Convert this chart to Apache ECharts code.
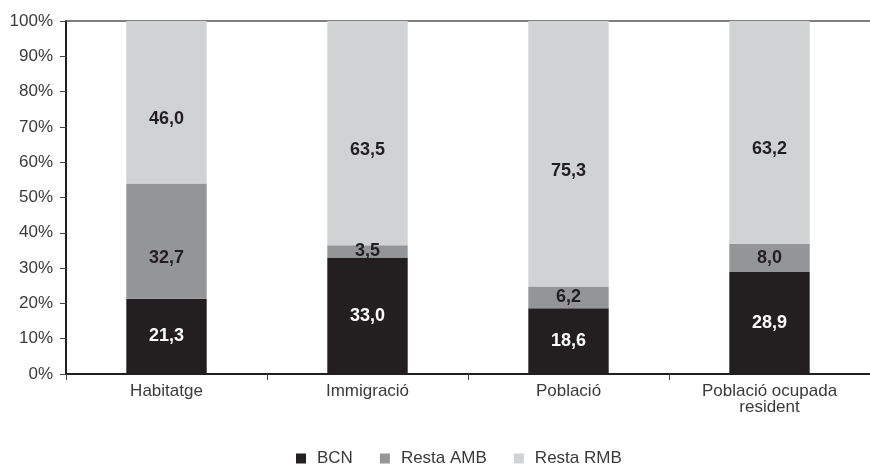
<!DOCTYPE html>
<html>
<head>
<meta charset="utf-8">
<script src="https://cdn.jsdelivr.net/npm/echarts@6/dist/echarts.min.js"></script>
<style>
  html, body { margin: 0; padding: 0; background: #fff; }
  #main { width: 870px; height: 464px; }
</style>
</head>
<body>
<div id="main"></div>
<script>
var categories = ['Habitatge', 'Immigració', 'Població', 'Població ocupada\nresident'];
var bcn = [21.3, 33.0, 18.6, 28.9];
var restaAmb = [32.7, 3.5, 6.2, 8.0];
var restaRmb = [46.0, 63.5, 75.3, 63.2];
var yTicks = [0, 10, 20, 30, 40, 50, 60, 70, 80, 90, 100];

var font = 'Liberation Sans, Arial, sans-serif';

function fmt(p) {
  return p.value.toFixed(1).replace('.', ',');
}

// tall segments carry their label a little below the middle, as in the original
function items(data) {
  return data.map(function (v) {
    return v > 20 && data !== bcn ? { value: v, label: { offset: [0, 17] } } : v;
  });
}

function serie(name, data, color, labelColor) {
  return {
    name: name,
    type: 'bar',
    stack: 'total',
    data: items(data),
    barWidth: '40%',
    itemStyle: { color: color },
    label: {
      show: true,
      position: 'inside',
      formatter: fmt,
      color: labelColor,
      fontWeight: 'bold',
      fontSize: 18,
      fontFamily: font
    }
  };
}

var chart = echarts.init(document.getElementById('main'));
chart.setOption({
  animation: false,
  grid: { left: 66, right: -8, top: 21, bottom: 90, containLabel: false },
  legend: {
    left: 291,
    top: 445,
    itemWidth: 10,
    itemHeight: 10,
    itemGap: 27,
    icon: 'rect',
    textStyle: { fontFamily: font, fontSize: 17, color: '#3a3a3a', padding: [0, 0, 0, 6] },
    data: ['BCN', 'Resta AMB', 'Resta RMB']
  },
  xAxis: [{
    type: 'category',
    data: categories,
    axisLine: { lineStyle: { color: '#231f20', width: 2 } },
    axisTick: { show: true, length: 6, lineStyle: { color: '#444' } },
    axisLabel: { fontFamily: font, fontSize: 17, color: '#3a3a3a', margin: 9, lineHeight: 16 }
  }, {
    type: 'category',
    position: 'top',
    data: categories,
    axisLine: { show: true, lineStyle: { color: '#555', width: 1.5 } },
    axisTick: { show: false },
    axisLabel: { show: false }
  }],
  yAxis: {
    type: 'value',
    min: yTicks[0],
    max: yTicks[yTicks.length - 1],
    interval: 10,
    axisLine: { show: true, lineStyle: { color: '#231f20', width: 2 } },
    axisTick: { show: true, length: 6, lineStyle: { color: '#444' } },
    splitLine: { show: false },
    axisLabel: { fontFamily: font, fontSize: 17, color: '#3a3a3a', margin: 13, formatter: '{value}%' }
  },
  series: [
    serie('BCN', bcn, '#231f20', '#ffffff'),
    serie('Resta AMB', restaAmb, '#949597', '#231f20'),
    serie('Resta RMB', restaRmb, '#d1d2d4', '#231f20')
  ]
});
</script>
</body>
</html>
